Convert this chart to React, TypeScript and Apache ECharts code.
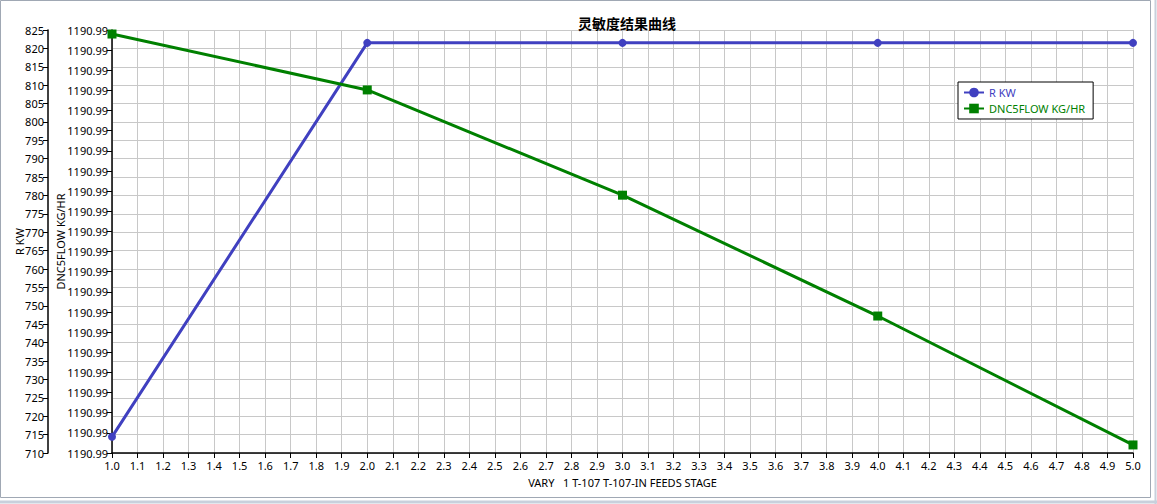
import React, { useEffect, useRef } from "react";
import * as echarts from "echarts";

const xValues = [1.0, 2.0, 3.0, 4.0, 5.0];
const rKw = [714.4, 821.5, 821.5, 821.5, 821.5];
const dnc5Flow = [1190.99432, 1190.99321, 1190.99112, 1190.98872, 1190.98616];

const titleText = "灵敏度结果曲线";
const xAxisName = "VARY   1 T-107 T-107-IN FEEDS STAGE";
const seriesNames = ["R KW", "DNC5FLOW KG/HR"];

const FONT = "'Noto Sans', 'Noto Sans CJK SC', sans-serif";

export default function App() {
  const ref = useRef<HTMLDivElement>(null);
  useEffect(() => {
    if (!ref.current) return;
    const chart = echarts.init(ref.current, undefined, { renderer: "svg" });
    chart.setOption({
      animation: false,
      backgroundColor: "#ffffff",
      textStyle: { fontFamily: FONT },
      title: {
        text: titleText,
        left: 622,
        textAlign: "center",
        top: 11,
        textStyle: { fontSize: 14, fontWeight: "bold", color: "#000", fontFamily: FONT },
      },
      legend: {
        orient: "vertical",
        left: 958,
        top: 82,
        padding: [5, 8, 5, 5],
        itemGap: 5,
        itemWidth: 20,
        itemHeight: 12,
        borderColor: "#000",
        borderWidth: 1,
        borderRadius: 0,
        backgroundColor: "#fff",
        data: [
          { name: seriesNames[0], textStyle: { color: "#4040C0" } },
          { name: seriesNames[1], textStyle: { color: "#008000" } },
        ],
        textStyle: { fontSize: 11, fontFamily: FONT },
      },
      grid: { left: 112, right: 24, top: 30, bottom: 51, containLabel: false, outerBoundsMode: "none" },
      xAxis: {
        type: "value",
        min: 1,
        max: 5,
        interval: 0.1,
        name: xAxisName,
        nameLocation: "middle",
        nameGap: 24,
        nameTextStyle: { fontSize: 11, color: "#000" },
        axisLine: { show: true, lineStyle: { color: "#000", width: 1.5 } },
        axisTick: { show: true, length: 5, lineStyle: { color: "#000" } },
        axisLabel: { fontSize: 11, color: "#000", margin: 7, formatter: (v: number) => v.toFixed(1) },
        splitLine: { show: true, lineStyle: { color: "#c8c8c8", width: 1 } },
      },
      yAxis: [
        {
          type: "value",
          position: "left",
          offset: 64,
          min: 710,
          max: 825,
          interval: 5,
          name: seriesNames[0],
          nameLocation: "middle",
          nameGap: 23,
          nameMoveOverlap: false,
          nameTextStyle: { fontSize: 11, color: "#000" },
          axisLine: { show: true, lineStyle: { color: "#000", width: 1.5 } },
          axisTick: { show: true, length: 5, lineStyle: { color: "#000" } },
          axisLabel: { fontSize: 11, color: "#000", margin: 4 },
          splitLine: { show: true, lineStyle: { color: "#c8c8c8", width: 1 } },
        },
        {
          type: "value",
          position: "left",
          offset: 0,
          min: 1190.986,
          max: 1190.9944,
          interval: 0.0004,
          name: seriesNames[1],
          nameLocation: "middle",
          nameGap: 46,
          nameMoveOverlap: false,
          nameTextStyle: { fontSize: 11, color: "#000" },
          axisLine: { show: true, lineStyle: { color: "#000", width: 1.5 } },
          axisTick: { show: true, length: 5, lineStyle: { color: "#000" } },
          axisLabel: { fontSize: 11, color: "#000", margin: 4, formatter: (v: number) => v.toFixed(2) },
          splitLine: { show: false },
        },
      ],
      series: [
        {
          name: seriesNames[0],
          type: "line",
          yAxisIndex: 0,
          data: xValues.map((x, i) => [x, rKw[i]]),
          symbol: "circle",
          symbolSize: 8,
          lineStyle: { color: "#4040C0", width: 3 },
          itemStyle: { color: "#4040C0" },
        },
        {
          name: seriesNames[1],
          type: "line",
          yAxisIndex: 1,
          data: xValues.map((x, i) => [x, dnc5Flow[i]]),
          symbol: "rect",
          symbolSize: 9,
          lineStyle: { color: "#008000", width: 3 },
          itemStyle: { color: "#008000" },
        },
      ],
      graphic: [
        {
          type: "rect",
          shape: { x: 0.5, y: 0.5, width: 1150, height: 497 },
          style: { fill: "none", stroke: "#a0a8b4", lineWidth: 1 },
          silent: true,
        },
        {
          type: "line",
          shape: { x1: 1155.5, y1: 0, x2: 1155.5, y2: 504 },
          style: { stroke: "#c8d0dc", lineWidth: 2 },
          silent: true,
        },
        {
          type: "line",
          shape: { x1: 0, y1: 502, x2: 1157, y2: 502 },
          style: { stroke: "#c8d0dc", lineWidth: 3 },
          silent: true,
        },
      ],
    });
    return () => chart.dispose();
  }, []);
  return (
    <div
      ref={ref}
      style={{ position: "fixed", left: 0, top: 0, width: 1157, height: 504 }}
    />
  );
}
